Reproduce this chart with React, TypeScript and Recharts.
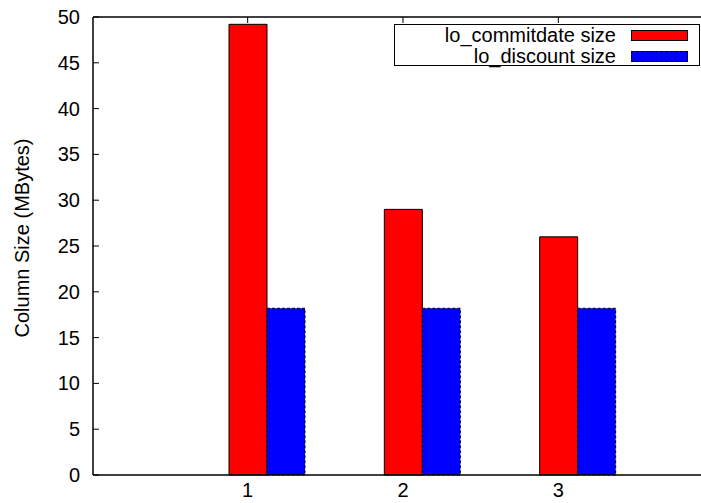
import { BarChart, Bar, XAxis, YAxis } from 'recharts';

const categories = ['1', '2', '3'];
const commitdateSize = [49.2, 29.0, 26.0];
const discountSize = [18.2, 18.2, 18.2];
const yTicks = [0, 5, 10, 15, 20, 25, 30, 35, 40, 45, 50];

const data = categories.map((label, i) => ({
  label,
  commitdate: commitdateSize[i],
  discount: discountSize[i],
}));

const FONT = 'Liberation Sans, Arial, sans-serif';
const PLOT_LEFT = 93;
const PLOT_TOP = 17;
const PLOT_BOTTOM = 475;
const BAR_SIZE = 38;
const SHIFT = BAR_SIZE / 2;
const PAD = { left: 96, right: 58 };

const YTick = ({ y, payload }: any) => (
  <g>
    <line x1={PLOT_LEFT} x2={PLOT_LEFT + 6} y1={y} y2={y} stroke="#000" />
    <text x={PLOT_LEFT - 13} y={y} textAnchor="end" dominantBaseline="central" fontSize={20} fontFamily={FONT} fill="#000">
      {payload.value}
    </text>
  </g>
);

const BottomTick = ({ x, payload }: any) => (
  <text x={x - SHIFT} y={PLOT_BOTTOM + 22} textAnchor="middle" fontSize={20} fontFamily={FONT} fill="#000">
    {payload.value}
  </text>
);

const TopTick = ({ x }: any) => (
  <line x1={x - SHIFT} x2={x - SHIFT} y1={PLOT_TOP} y2={PLOT_TOP + 6} stroke="#000" />
);

const legendItems = [
  { name: 'lo_commitdate size', fill: '#ff0000', dash: 'solid' },
  { name: 'lo_discount size', fill: '#0000ff', dash: 'dashed' },
];

const LegendBox = () => (
  <div
    style={{
      position: 'absolute',
      left: 394,
      top: 24,
      width: 306,
      height: 42,
      border: '1px solid #000',
      background: '#fff',
      fontFamily: FONT,
      fontSize: 20,
      boxSizing: 'border-box',
    }}
  >
    {legendItems.map((item, i) => (
      <div key={item.name} style={{ position: 'absolute', right: 0, top: 0 + i * 21, height: 20, display: 'flex', alignItems: 'center' }}>
        <span style={{ lineHeight: '20px' }}>{item.name}</span>
        <span
          style={{
            display: 'inline-block',
            width: 55,
            height: 9,
            marginLeft: 15,
            marginRight: 11,
            background: item.fill,
            border: `1px ${item.dash} #000`,
          }}
        />
      </div>
    ))}
  </div>
);

export default function App() {
  return (
    <div style={{ position: 'absolute', left: 0, top: 0, width: 701, height: 503, overflow: 'hidden', background: '#fff' }}>
      <BarChart width={720} height={503} data={data} margin={{ top: PLOT_TOP - 1, right: 7, left: 0, bottom: 0 }} barGap={0}>
        <XAxis
          dataKey="label"
          height={28}
          padding={PAD}
          axisLine={{ stroke: '#000', strokeWidth: 1.5 }}
          tickLine={false}
          tick={<BottomTick />}
          interval={0}
        />
        <XAxis
          xAxisId="top"
          dataKey="label"
          orientation="top"
          height={1}
          padding={PAD}
          axisLine={{ stroke: '#000', strokeWidth: 1.5 }}
          tickLine={false}
          tick={<TopTick />}
          interval={0}
        />
        <YAxis
          width={PLOT_LEFT}
          domain={[0, 50]}
          ticks={yTicks}
          interval={0}
          axisLine={{ stroke: '#000', strokeWidth: 1.5 }}
          tickLine={false}
          tick={<YTick />}
          label={{
            content: () => (
              <text x={22} y={238} transform="rotate(-90, 22, 238)" textAnchor="middle" dominantBaseline="central" fontSize={20} fontFamily={FONT} fill="#000">
                Column Size (MBytes)
              </text>
            ),
          }}
        />
        <Bar dataKey="commitdate" name="lo_commitdate size" fill="#ff0000" stroke="#000" strokeWidth={1} barSize={BAR_SIZE} isAnimationActive={false} />
        <Bar dataKey="discount" name="lo_discount size" fill="#0000ff" stroke="#000" strokeWidth={1} strokeDasharray="3 2" barSize={BAR_SIZE} isAnimationActive={false} />
      </BarChart>
      <LegendBox />
    </div>
  );
}
